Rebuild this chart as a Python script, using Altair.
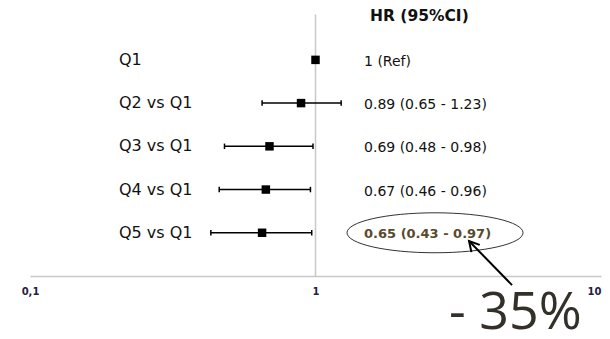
import altair as alt
import pandas as pd

# ---- data ----
labels = ["Q1", "Q2 vs Q1", "Q3 vs Q1", "Q4 vs Q1", "Q5 vs Q1"]
rows = [1, 2, 3, 4, 5]
hr = [1.0, 0.89, 0.69, 0.67, 0.65]
ci_low = [None, 0.65, 0.48, 0.46, 0.43]
ci_high = [None, 1.23, 0.98, 0.96, 0.97]
hr_text = ["1 (Ref)", "0.89 (0.65 - 1.23)", "0.69 (0.48 - 0.98)",
           "0.67 (0.46 - 0.96)", "0.65 (0.43 - 0.97)"]
tick_values = [0.1, 1, 10]
header_text = "HR (95%CI)"
callout_text = "- 35%"

# ---- annotation anchor positions (in data space) ----
LABEL_X = 0.205
TEXT_X = 1.479
HEADER_X = 1.552
ELLIPSE_X, ELLIPSE_Y = 2.622, 5.0
ARROW_TAIL = (4.88, 6.21)
ARROW_TIP = (3.449, 5.19)
CALLOUT_X, CALLOUT_Y = 2.935, 7.22

df = pd.DataFrame({"label": labels, "row": rows, "hr": hr,
                   "lo": ci_low, "hi": ci_high, "txt": hr_text})
df["lx"] = LABEL_X
df["tx"] = TEXT_X
ci = df.dropna(subset=["lo", "hi"])
caps = pd.concat([
    pd.DataFrame({"v": ci["lo"], "row": ci["row"]}),
    pd.DataFrame({"v": ci["hi"], "row": ci["row"]}),
])

xs = alt.Scale(type="log", domain=[0.1, 10], range=[22, 593])
ys = alt.Scale(domain=[-0.2, 6], reverse=True, zero=False, nice=False)
x_axis = alt.Axis(values=tick_values, title=None, grid=False, tickSize=0,
                  labelExpr="datum.value < 0.5 ? '0,1' : format(datum.value, 'd')",
                  labelAlign={"condition": {"test": "datum.value > 5", "value": "right"},
                              "value": "center"},
                  domainColor="#c8c8c8", domainWidth=1.5,
                  labelFont="DejaVu Sans", labelFontWeight="bold",
                  labelFontSize=10, labelColor="#222244",
                  labelPadding=10, labelFlush=False)


def X(field):
    return alt.X(field, type="quantitative", scale=xs, axis=x_axis)


def Y(field):
    return alt.Y(field, type="quantitative", scale=ys, axis=None)


vline = alt.Chart(pd.DataFrame({"x": [1.0], "y": [-0.05], "y2": [6.0]})).mark_rule(
    color="#c8c8c8", strokeWidth=1.5
).encode(x=X("x"), y=Y("y"), y2="y2")

ci_rule = alt.Chart(ci).mark_rule(color="black", strokeWidth=1.5).encode(
    x=X("lo"), x2="hi", y=Y("row"))

cap_pts = alt.Chart(caps).mark_point(
    shape="M0,-1L0,1", size=30, filled=False, stroke="black",
    strokeWidth=1.5, opacity=1
).encode(x=X("v"), y=Y("row"))

squares = alt.Chart(df).mark_point(
    shape="square", size=72, filled=True, color="black", opacity=1
).encode(x=X("hr"), y=Y("row"))

left_labels = alt.Chart(df).mark_text(
    align="left", baseline="middle", font="DejaVu Sans", fontSize=16,
    color="#111111"
).encode(x=X("lx"), y=Y("row"), text="label")

hr_labels = alt.Chart(df).transform_filter("datum.row < 5").mark_text(
    align="left", baseline="middle", font="DejaVu Sans", fontSize=14,
    color="#111111", dy=2
).encode(x=X("tx"), y=Y("row"), text="txt")

hr_bold = alt.Chart(df).transform_filter("datum.row == 5").mark_text(
    align="left", baseline="middle", font="DejaVu Sans", fontSize=13,
    fontWeight="bold", color="#5a4a2c", dy=1
).encode(x=X("tx"), y=Y("row"), text="txt")

header = alt.Chart(pd.DataFrame({"x": [HEADER_X], "y": [0.0], "t": [header_text]})).mark_text(
    align="left", baseline="middle", font="DejaVu Sans", fontSize=15.5,
    fontWeight="bold", color="#111111", dy=-1
).encode(x=X("x"), y=Y("y"), text="t")

ellipse = alt.Chart(pd.DataFrame({"x": [ELLIPSE_X], "y": [ELLIPSE_Y]})).mark_point(
    shape="M-1,0A1,0.227,0,1,1,1,0A1,0.227,0,1,1,-1,0",
    size=176 * 176, filled=False, stroke="#333333", strokeWidth=1, opacity=1
).encode(x=X("x"), y=Y("y"))

arrow_line = alt.Chart(pd.DataFrame({
    "x": [ARROW_TAIL[0]], "y": [ARROW_TAIL[1]],
    "x2": [ARROW_TIP[0]], "y2": [ARROW_TIP[1]]})).mark_rule(
    color="black", strokeWidth=2
).encode(x=X("x"), y=Y("y"), x2="x2", y2="y2")

arrow_head = alt.Chart(pd.DataFrame({"x": [ARROW_TIP[0]], "y": [ARROW_TIP[1]]})).mark_point(
    shape="M-0.55,1L0,0L0.55,1", size=400, filled=False, stroke="black",
    strokeWidth=2, opacity=1, angle=319
).encode(x=X("x"), y=Y("y"))

callout = alt.Chart(pd.DataFrame({"x": [CALLOUT_X], "y": [CALLOUT_Y], "t": [callout_text]})).mark_text(
    align="left", baseline="alphabetic", font="Open Sans", fontSize=52,
    color="#33302a"
).encode(x=X("x"), y=Y("y"), text="t")

chart = alt.layer(
    vline, ci_rule, cap_pts, squares, left_labels, hr_labels, hr_bold,
    header, ellipse, arrow_line, arrow_head, callout
).properties(
    width=594, height=268,
    autosize=alt.AutoSizeParams(type="none"),
    padding={"left": 0, "top": 0, "right": 0, "bottom": 55},
    background="white",
).configure_view(stroke=None)

chart.save("out.html", embed_options={"renderer": "svg", "actions": False})
